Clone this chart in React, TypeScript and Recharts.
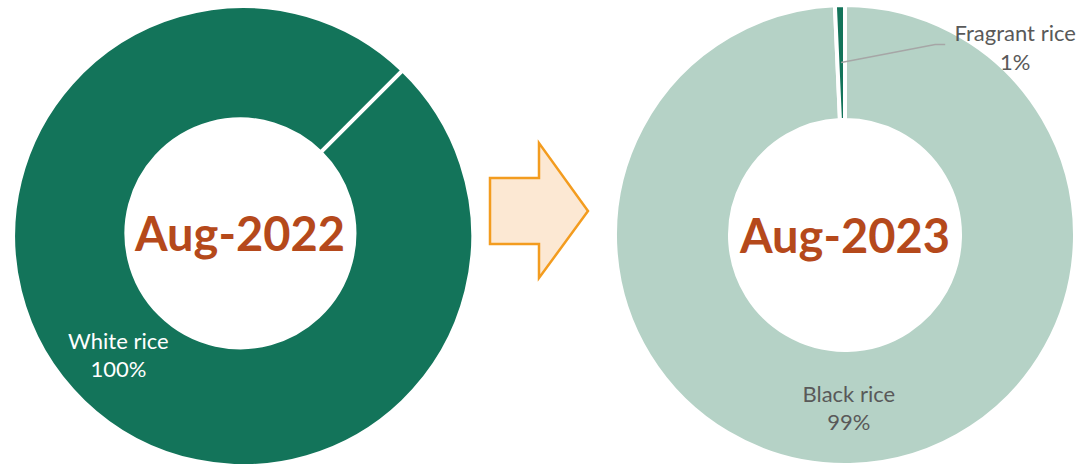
import { PieChart, Pie, Cell } from 'recharts';

// shares by rice type
const aug2022Names = ['White rice'];
const aug2022Values = [100];
const aug2023Names = ['Black rice', 'Fragrant rice'];
const aug2023Values = [99.3, 0.7];

const periods = ['Aug-2022', 'Aug-2023'];

const colors2022 = ['#13745A'];
const colors2023 = ['#B5D2C6', '#13745A'];
const labelColors2022 = ['#FFFFFF'];
const labelColors2023 = ['#595959', '#595959'];

const data2022 = aug2022Names.map((name, i) => ({ name, value: aug2022Values[i] }));
const data2023 = aug2023Names.map((name, i) => ({ name, value: aug2023Values[i] }));

const RAD = Math.PI / 180;
const FONT = 'Lato, "Noto Sans", sans-serif';

function sliceLabel(textColors: string[], period: string) {
  return (props: any) => {
    const { cx, cy, midAngle, innerRadius, outerRadius, percent, name, index } = props;
    const r = (innerRadius + outerRadius) / 2;
    const x = cx + r * Math.cos(-midAngle * RAD);
    const y = cy + r * Math.sin(-midAngle * RAD);
    const pct = `${Math.round(percent * 100)}%`;
    const fill = textColors[index];

    // period title in the hole, drawn once per donut
    const title =
      index === 0 ? (
        <text
          x={cx}
          y={cy}
          textAnchor="middle"
          dominantBaseline="central"
          fill="#B5491B"
          fontSize={47}
          fontWeight="bold"
          fontFamily={FONT}
        >
          {period}
        </text>
      ) : null;

    if (percent < 0.05) {
      // small slice: callout with a leader line
      const ex = x + 94;
      const ey = y - 18;
      return (
        <g>
          {title}
          <polyline
            points={`${x},${y} ${ex},${ey} ${ex + 10},${ey}`}
            fill="none"
            stroke="#A6A6A6"
            strokeWidth={1.5}
          />
          <text x={ex + 80} y={ey - 12} textAnchor="middle" dominantBaseline="central" fill={fill} fontSize={22} fontFamily={FONT}>
            {name}
          </text>
          <text x={ex + 80} y={ey + 17} textAnchor="middle" dominantBaseline="central" fill={fill} fontSize={22} fontFamily={FONT}>
            {pct}
          </text>
        </g>
      );
    }
    return (
      <g>
        {title}
        <text x={x} y={y - 14} textAnchor="middle" dominantBaseline="central" fill={fill} fontSize={22} fontFamily={FONT}>
          {name}
        </text>
        <text x={x} y={y + 14} textAnchor="middle" dominantBaseline="central" fill={fill} fontSize={22} fontFamily={FONT}>
          {pct}
        </text>
      </g>
    );
  };
}

export default function App() {
  return (
    <div style={{ position: 'absolute', left: 0, top: 0, width: 1081, height: 464, background: '#fff' }}>
      <PieChart width={1081} height={464} margin={{ top: 0, right: 0, bottom: 0, left: 0 }}>
        <Pie
          data={data2022}
          dataKey="value"
          nameKey="name"
          cx={240}
          cy={233}
          innerRadius={114}
          outerRadius={230}
          startAngle={45}
          endAngle={-315}
          stroke="#FFFFFF"
          strokeWidth={4}
          label={sliceLabel(labelColors2022, periods[0])}
          labelLine={false}
          isAnimationActive={false}
        >
          {data2022.map((d, i) => (
            <Cell key={d.name} fill={colors2022[i]} />
          ))}
        </Pie>
        <Pie
          data={data2023}
          dataKey="value"
          nameKey="name"
          cx={845}
          cy={235}
          innerRadius={115}
          outerRadius={230}
          startAngle={90}
          endAngle={-270}
          stroke="#FFFFFF"
          strokeWidth={4}
          label={sliceLabel(labelColors2023, periods[1])}
          labelLine={false}
          isAnimationActive={false}
        >
          {data2023.map((d, i) => (
            <Cell key={d.name} fill={colors2023[i]} />
          ))}
        </Pie>
      </PieChart>
      <svg width={1081} height={464} style={{ position: 'absolute', left: 0, top: 0, pointerEvents: 'none' }}>
        <polygon
          points="490,178 539,178 539,143 588,211 539,278 539,244 490,244"
          fill="#FCE8D3"
          stroke="#F39C1F"
          strokeWidth={2.5}
          strokeLinejoin="miter"
        />
      </svg>
    </div>
  );
}
